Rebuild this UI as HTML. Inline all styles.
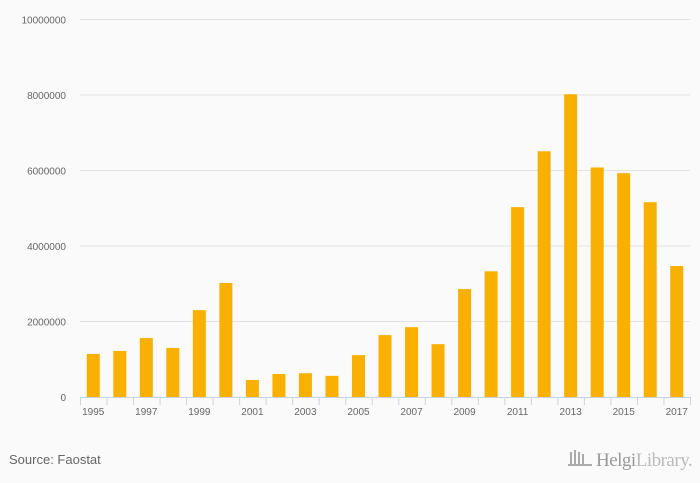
<!DOCTYPE html>
<html><head><meta charset="utf-8"><style>
body{margin:0;background:#fafafa;font-family:"Liberation Sans",sans-serif;}
svg{display:block}
</style></head><body>
<svg width="700" height="483" id="chart">
<rect width="700" height="483" fill="#fafafa"/>
<g id="grid"></g><g id="bars"></g><g id="xaxis"></g>
<text x="9" y="464" font-size="13" fill="#666">Source: Faostat</text>
<g>
<g fill="#aaa"><rect x="570" y="452" width="2" height="12"/><rect x="574" y="450" width="2" height="14"/><rect x="578" y="452" width="2" height="12"/><rect x="582" y="454" width="2" height="10"/><rect x="568" y="464" width="24" height="2"/></g>
<text x="596" y="466" font-family="Liberation Serif,serif" font-size="19" fill="#999" letter-spacing="-0.5">Helgi<tspan fill="#bbb">Library.</tspan></text>
</g>
</svg>
<script>
const years=["1995","1996","1997","1998","1999","2000","2001","2002","2003","2004","2005","2006","2007","2008","2009","2010","2011","2012","2013","2014","2015","2016","2017"];
const values=[1140000,1220000,1560000,1300000,2300000,3020000,450000,610000,630000,560000,1110000,1640000,1850000,1400000,2860000,3330000,5030000,6510000,8020000,6080000,5930000,5160000,3470000];
const yTicks=[0,2000000,4000000,6000000,8000000,10000000];
const NS="http://www.w3.org/2000/svg";
const x0=80,x1=690,y0=397,yTop=19.5,yMax=10000000;
const band=(x1-x0)/years.length;
const y=v=>y0-(v/yMax)*(y0-yTop);
const xs=i=>x0+i*band;
const grid=document.getElementById('grid'),bars=document.getElementById('bars'),xa=document.getElementById('xaxis');
function mk(t,a,p){const e=document.createElementNS(NS,t);for(const k in a)e.setAttribute(k,a[k]);p.appendChild(e);return e;}
yTicks.forEach(v=>{
 if(v>0){const l=mk('line',{x1:x0,x2:x1,y1:y(v),y2:y(v),stroke:'#e3e3e3','stroke-width':1},grid);
 
 }
 const t=mk('text',{x:66,y:y(v)+4,'text-anchor':'end','font-size':10,fill:'#666'},grid);
 t.textContent=v;
 
 
});
values.forEach((v,i)=>{
 const r=mk('rect',{x:xs(i)+band/2-6.5,y:y(v),width:13,height:y0-y(v),fill:'#f9b000'},bars);
 
 
});
const ax=mk('line',{x1:x0,x2:x1,y1:y0+0.5,y2:y0+0.5,stroke:'#c8d4e6'},xa);


for(let i=0;i<=years.length;i++){const tk=mk('line',{x1:xs(i)+0.5,x2:xs(i)+0.5,y1:y0,y2:y0+8,stroke:'#c8d4e6'},xa);
 
 }
years.forEach((yr,i)=>{if(i%2)return;
 const t=mk('text',{x:xs(i)+band/2,y:y0+18,'text-anchor':'middle','font-size':10,fill:'#666'},xa);
 t.textContent=yr;
 
 });
</script>
</body></html>
